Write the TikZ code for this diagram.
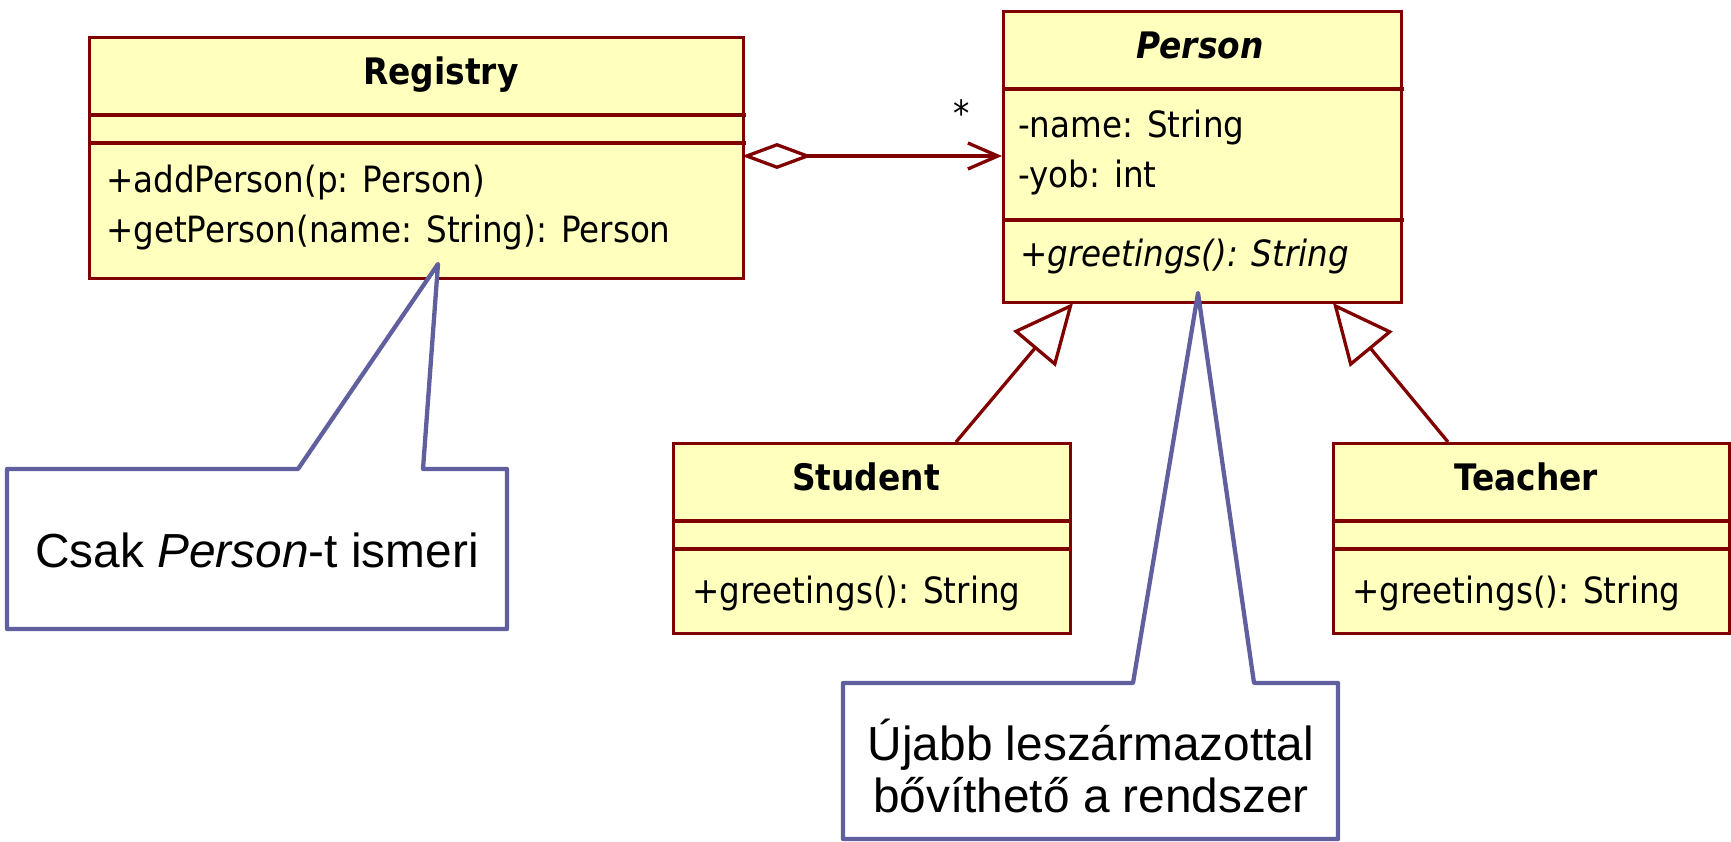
\documentclass[tikz,border=0pt]{standalone}
\usepackage{fontspec}
\setmainfont{Liberation Sans}
\newfontfamily\umlfont[FakeStretch=0.9]{DejaVu Sans}
\usetikzlibrary{arrows.meta}
\definecolor{umlred}{RGB}{128,0,0}
\definecolor{umlfill}{RGB}{255,255,190}
\definecolor{notecol}{RGB}{96,96,158}
\tikzset{
  umlbox/.style={draw=umlred, fill=umlfill, line width=3.3pt, inner sep=0pt, anchor=north west},
  divider/.style={draw=umlred, line width=3.3pt},
  umltext/.style={anchor=base west, inner sep=0pt, font=\umlfont\fontsize{36.2}{42}\selectfont},
  umltitle/.style={anchor=base, inner sep=0pt, font=\umlfont\bfseries\fontsize{36.5}{42}\selectfont},
  aggline/.style={draw=umlred, line width=3.3pt, {Diamond[open, length=70pt, width=26pt]}-{Straight Barb[length=30pt, width=26pt]}},
  genline/.style={draw=umlred, line width=3.3pt, -{Triangle[open, length=60pt, width=55pt, fill=white]}},
  callout/.style={draw=notecol, fill=white, line width=4.3pt, line join=round},
  notetext/.style={anchor=base, inner sep=0pt, font=\fontsize{47.8}{55}\selectfont},
}
\begin{document}
\begin{tikzpicture}[x=1pt, y=-1pt]
\useasboundingbox (0,0) rectangle (1731,842);

% Registry
\node[umlbox, minimum width=654pt, minimum height=241pt] (registry) at (88,36) {};
\draw[divider] (88,115) -- (746,115);
\draw[divider] (88,143) -- (746,143);
\node[umltitle] (registry-title) at (441,85) {Registry};
\node[umltext] (registry-m1) at (106,193) {+addPerson(p: Person)};
\node[umltext] (registry-m2) at (106,243) {+getPerson(name: String): Person};

% Person
\node[umlbox, minimum width=398pt, minimum height=291pt] (person) at (1002,10) {};
\draw[divider] (1002,89) -- (1404,89);
\draw[divider] (1002,220) -- (1404,220);
\node[umltitle] (person-title) at (1200,59) {\itshape Person};
\node[umltext] (person-a1) at (1018,138) {-name: String};
\node[umltext] (person-a2) at (1018,188) {-yob: int};
\node[umltext] (person-m1) at (1020,267) {\itshape +greetings(): String};

% Student
\node[umlbox, minimum width=397pt, minimum height=190pt] (student) at (672,442) {};
\draw[divider] (672,521) -- (1072,521);
\draw[divider] (672,549) -- (1072,549);
\node[umltitle] (student-title) at (866,490) {Student};
\node[umltext] (student-m1) at (692,603) {+greetings(): String};

% Teacher
\node[umlbox, minimum width=396pt, minimum height=190pt] (teacher) at (1332,442) {};
\draw[divider] (1332,521) -- (1731,521);
\draw[divider] (1332,549) -- (1731,549);
\node[umltitle] (teacher-title) at (1526,490) {Teacher};
\node[umltext] (teacher-m1) at (1352,603) {+greetings(): String};

% aggregation
\coordinate (agg-from) at (742,156);
\coordinate (agg-to) at (1002,156);
\draw[aggline] (agg-from) -- (agg-to);
\node[umltext, anchor=base] (mult) at (962,127) {*};

% generalizations
\coordinate (stu-top) at (956,442);
\coordinate (per-bot-s) at (1073,303);
\coordinate (tea-top) at (1448,442);
\coordinate (per-bot-t) at (1333,303);
\draw[genline] (stu-top) -- (per-bot-s);
\draw[genline] (tea-top) -- (per-bot-t);

% callout 1
\draw[callout] (7,469) -- (298,469) -- (438,264) -- (423,469) -- (507,469) -- (507,629) -- (7,629) -- cycle;
\node[notetext] (note1) at (257,567) {Csak \textit{Person}-t ismeri};

% callout 2
\draw[callout] (843,683) -- (1133,683) -- (1198,293) -- (1254,683) -- (1338,683) -- (1338,839) -- (843,839) -- cycle;
\node[notetext] (note2a) at (1091,760) {Újabb leszármazottal};
\node[notetext] (note2b) at (1091,812) {bővíthető a rendszer};
\end{tikzpicture}
\end{document}
